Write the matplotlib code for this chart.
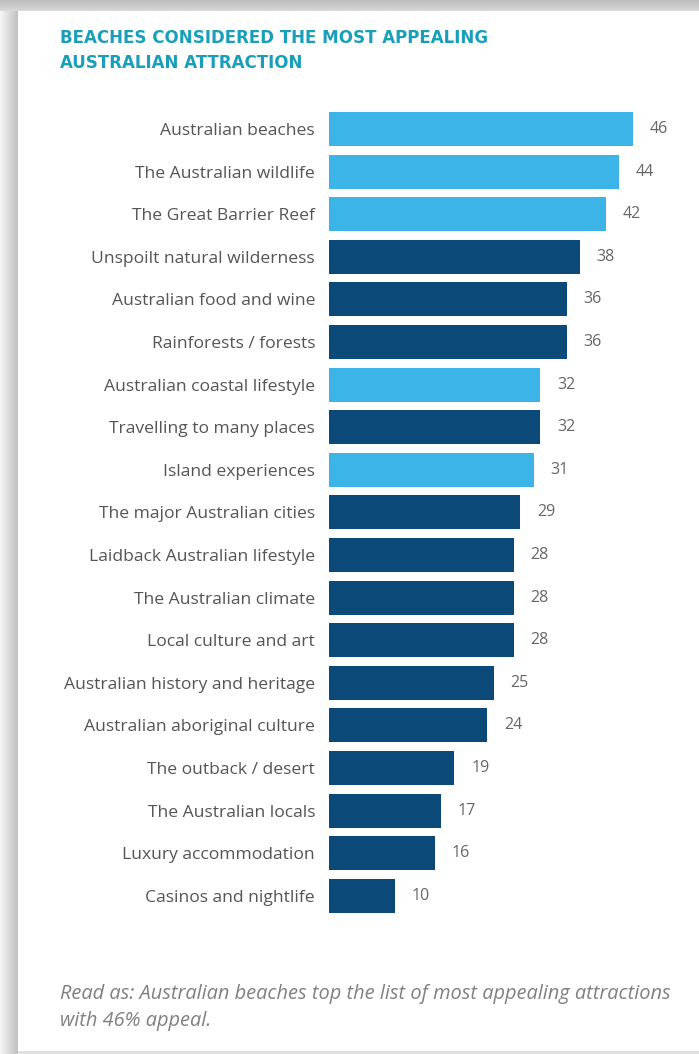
import numpy as np
import matplotlib
matplotlib.use("Agg")
from matplotlib import pyplot as plt

# 数据
attractions = [
    "Australian beaches", "The Australian wildlife", "The Great Barrier Reef",
    "Unspoilt natural wilderness", "Australian food and wine", "Rainforests / forests",
    "Australian coastal lifestyle", "Travelling to many places", "Island experiences",
    "The major Australian cities", "Laidback Australian lifestyle", "The Australian climate",
    "Local culture and art", "Australian history and heritage", "Australian aboriginal culture",
    "The outback / desert", "The Australian locals", "Luxury accommodation",
    "Casinos and nightlife",
]
appeal = [46, 44, 42, 38, 36, 36, 32, 32, 31, 29, 28, 28, 28, 25, 24, 19, 17, 16, 10]
# 海滨相关的项目用浅蓝色
coastal = ["Australian beaches", "The Australian wildlife", "The Great Barrier Reef",
           "Australian coastal lifestyle", "Island experiences"]

LIGHT = "#3cb4e7"
DARK = "#0b4a78"
W, H = 699, 1054

fig = plt.figure(figsize=(W / 100, H / 100), dpi=100)

# 背景：白色卡片 + 左侧/上侧阴影
bg = np.ones((H, W))
bg[:, :18] = np.linspace(0.96, 0.76, 18)[None, :]
bg[:11, :] = np.linspace(0.74, 0.84, 11)[:, None]
bg[1051:, 18:] = 0.88
ax_bg = fig.add_axes([0, 0, 1, 1], zorder=-1)
ax_bg.imshow(bg, cmap="gray", vmin=0, vmax=1, aspect="auto", interpolation="bilinear")
ax_bg.axis("off")

# 条形图区域
left = 329 / W
top_px, bot_px = 107.7, 917.1
ax = fig.add_axes([left, 1 - bot_px / H, 1 - left, (bot_px - top_px) / H])
ax.patch.set_alpha(0)

y = np.arange(len(attractions))
colors = [LIGHT if a in coastal else DARK for a in attractions]
ax.barh(y, appeal, height=0.8, color=colors)
ax.set_xlim(0, (W - 329) / 6.6)
ax.set_ylim(len(attractions) - 0.5, -0.5)
ax.set_yticks(y)
ax.set_yticklabels(attractions, fontsize=12.6, color="#555555", family="Open Sans")
ax.tick_params(axis="y", length=0, pad=10)
ax.set_xticks([])
for s in ax.spines.values():
    s.set_visible(False)

for yi, v in zip(y, appeal):
    ax.annotate(str(v), (v, yi), xytext=(12, 0), textcoords="offset points",
                va="center", ha="left", fontsize=11.5, color="#666666", family="Open Sans")

# 标题
fig.text(60 / W, 1 - 29 / H, "BEACHES CONSIDERED THE MOST APPEALING\nAUSTRALIAN ATTRACTION",
         ha="left", va="top", fontsize=13.3, fontweight="bold", color="#1a9fbb",
         family="DejaVu Sans", fontstretch="condensed", linespacing=1.5)

# 脚注
fig.text(60 / W, 1 - 984 / H,
         "Read as: Australian beaches top the list of most appealing attractions\nwith 46% appeal.",
         ha="left", va="top", fontsize=14.4, style="italic", color="#808080",
         family="Open Sans", linespacing=1.45)

fig.savefig("out.png", dpi=100)
